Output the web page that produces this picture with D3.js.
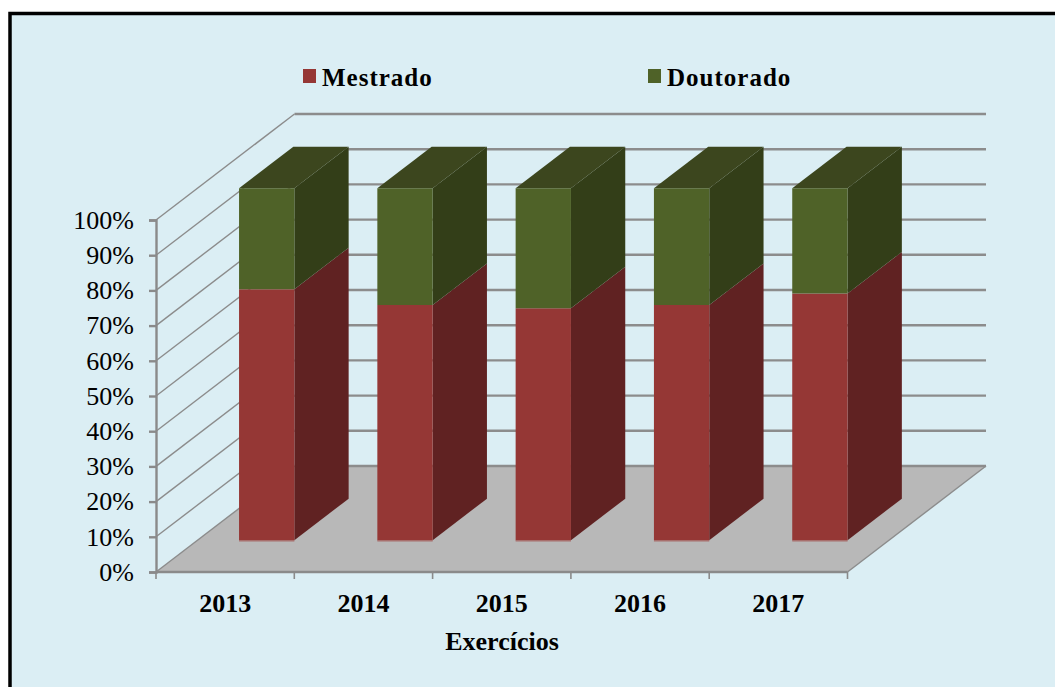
<!DOCTYPE html>
<html><head><meta charset="utf-8">
<script src="https://cdn.jsdelivr.net/npm/d3@7"></script>
<style>html,body{margin:0;padding:0;background:#fff;overflow:hidden}svg{display:block}</style>
</head><body><div id="chart"></div>
<script>
const categories = ["2013","2014","2015","2016","2017"];
const mestrado = [71.3,66.8,65.9,66.8,70.1];
const doutorado = [28.7,33.2,34.1,33.2,29.9];
const seriesNames = ["Mestrado","Doutorado"];
const yTicks = [0,10,20,30,40,50,60,70,80,90,100];
const axisTitle = "Exercícios";

const W=1055,H=687;
const serif='"Liberation Serif","Times New Roman",serif';
const svg=d3.select("#chart").append("svg").attr("width",W).attr("height",H);
svg.append("rect").attr("width",W).attr("height",H).attr("fill","#fff");
svg.append("rect").attr("x",10).attr("y",13.5).attr("width",W+20).attr("height",H+20)
  .attr("fill","#dbeef4").attr("stroke","#000").attr("stroke-width",3.5);

const x=d3.scaleBand().domain(categories).range([156,847.5]).paddingInner(0.6).paddingOuter(0.3);
const y=d3.scaleLinear().domain([0,100]).range([572,220]);
const depthX=138.5,depthY=106;
const P=(px,v,f)=>[px+depthX*f,y(v)-depthY*f];
const poly=(g,pts,fill)=>g.append("polygon").attr("points",pts.map(p=>p.join(",")).join(" ")).attr("fill",fill);
const L=x.range()[0],R=x.range()[1];
const grid="#8c8c8c";

// floor
poly(svg,[P(L,0,0),P(R,0,0),P(R,0,1),P(L,0,1)],"#b8b8b8");

// walls
const gridG=svg.append("g").attr("stroke",grid).attr("fill","none");
yTicks.forEach(t=>{
  const a=P(L,t,0),b=P(L,t,1),c=P(R,t,1);
  gridG.append("line").attr("x1",a[0]).attr("y1",a[1]).attr("x2",b[0]).attr("y2",b[1]).attr("stroke-width",1.4);
  gridG.append("line").attr("x1",b[0]).attr("y1",b[1]).attr("x2",c[0]).attr("y2",c[1]).attr("stroke-width",2.4);
});
const rightEdge=[P(R,0,0),P(R,0,1)];
gridG.append("line").attr("x1",rightEdge[0][0]).attr("y1",rightEdge[0][1]).attr("x2",rightEdge[1][0]).attr("y2",rightEdge[1][1]).attr("stroke-width",1.4);

// bars
const f0=0.3,f1=0.692;
const cols={m:{front:"#953735",side:"#602222"},d:{front:"#4f6228",side:"#333e18",top:"#3c461e"}};
categories.forEach((c,i)=>{
  const g=svg.append("g");
  const l=x(c),r=l+x.bandwidth();
  const m=mestrado[i],t=m+doutorado[i];
  poly(g,[P(r,0,f0),P(r,0,f1),P(r,m,f1),P(r,m,f0)],cols.m.side);
  poly(g,[P(r,m,f0),P(r,m,f1),P(r,t,f1),P(r,t,f0)],cols.d.side);
  poly(g,[P(l,t,f0),P(r,t,f0),P(r,t,f1),P(l,t,f1)],cols.d.top);
  poly(g,[P(l,0,f0),P(r,0,f0),P(r,m,f0),P(l,m,f0)],cols.m.front);
  poly(g,[P(l,m,f0),P(r,m,f0),P(r,t,f0),P(l,t,f0)],cols.d.front);
  const b0=P(l,0,f0),b1=P(r,0,f0);
  g.append("line").attr("x1",b0[0]).attr("y1",b0[1]+0.5).attr("x2",b1[0]).attr("y2",b1[1]+0.5).attr("stroke","#a86f6d").attr("stroke-width",1.6);
});

// axes
const yAxis=d3.axisLeft(y).tickValues(yTicks).tickFormat(d=>d+"%").tickSize(7).tickPadding(15);
const yG=svg.append("g").attr("transform",`translate(${L},0)`).call(yAxis);
yG.select(".domain").attr("stroke","#8a8a8a").attr("stroke-width",2.4);
yG.selectAll(".tick line").attr("stroke","#8a8a8a").attr("stroke-width",2.4);
yG.selectAll("text").attr("font-family",serif).attr("font-size",26).attr("fill","#000").attr("dy","0.32em");

const xEdge=d3.scaleLinear().domain([0,categories.length]).range([L,R]);
const xAxisG=svg.append("g").attr("stroke","#8a8a8a");
xAxisG.append("line").attr("x1",L).attr("x2",R).attr("y1",y(0)).attr("y2",y(0)).attr("stroke-width",2.4);
d3.range(categories.length+1).forEach(k=>xAxisG.append("line").attr("x1",xEdge(k)).attr("x2",xEdge(k)).attr("y1",y(0)).attr("y2",y(0)+7).attr("stroke-width",1.6));
svg.append("g").selectAll("text").data(categories).join("text")
  .attr("x",d=>x(d)+x.bandwidth()/2).attr("y",612)
  .attr("text-anchor","middle").attr("font-family",serif).attr("font-weight","bold").attr("font-size",26).attr("fill","#000").text(d=>d);
svg.append("text").attr("x",502).attr("y",650).attr("text-anchor","middle").attr("font-family",serif).attr("font-weight","bold").attr("font-size",26).attr("fill","#000").text(axisTitle);

// legend
const legendX=[303,648],legendCol=[cols.m.front,cols.d.front];
seriesNames.forEach((s,i)=>{
  svg.append("rect").attr("x",legendX[i]).attr("y",69).attr("width",13).attr("height",14).attr("fill",legendCol[i]);
  svg.append("text").attr("x",legendX[i]+19).attr("y",86).attr("font-family",serif).attr("font-weight","bold").attr("font-size",25).attr("letter-spacing","1px").attr("fill","#000").text(s);
});
</script></body></html>
